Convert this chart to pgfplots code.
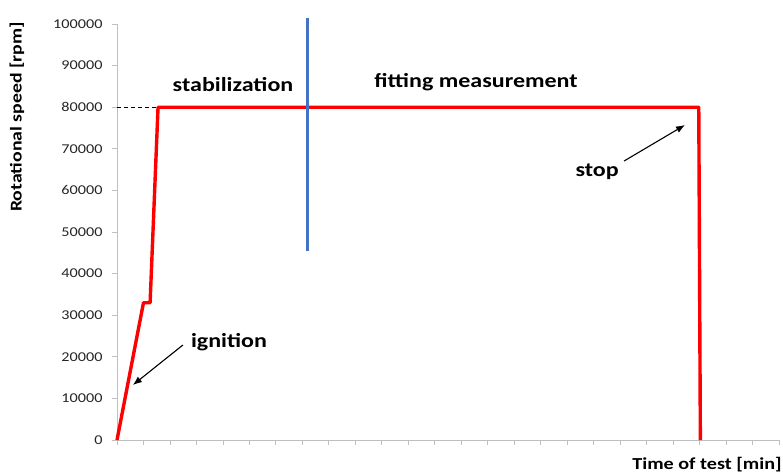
\documentclass[border=0pt]{standalone}
\usepackage{pgfplots}
\pgfplotsset{compat=1.18}
\usetikzlibrary{arrows.meta}
\usepackage{fontspec}
\setmainfont[FakeStretch=1.2]{Carlito}
\definecolor{myblue}{RGB}{68,114,196}
\definecolor{tickgray}{RGB}{191,191,191}
\begin{document}
\begin{tikzpicture}
\useasboundingbox (-117pt,-35pt) rectangle (666pt,440pt);
\begin{axis}[
  anchor=origin, at={(0,0)},
  scale only axis, width=662pt, height=416pt,
  xmin=0, xmax=25, ymin=0, ymax=100000,
  axis x line=bottom, axis y line=left,
  axis line style={-, draw=tickgray, line width=0.8pt},
  xtick={0,...,25}, xticklabels={},
  ytick={0,10000,...,100000},
  scaled y ticks=false,
  tick style={draw=tickgray, line width=0.8pt},
  tick align=outside, major tick length=5pt,
  /pgf/number format/assume math mode=true,
  /pgf/number format/fixed,
  /pgf/number format/1000 sep={},
  yticklabel style={font=\fontsize{13.5}{15}\selectfont, text=black!85, xshift=-6pt},
  clip=false,
]
\addplot[red, line width=3.4pt, line join=round] coordinates {
(0,0) (1.0,33000) (1.25,33000) (1.55,80000) (21.97,80000) (22.03,0)};
\addplot[myblue, line width=3.4pt] coordinates {(7.2,45400) (7.2,101400)};
\addplot[black, line width=1.2pt, dash pattern=on 4pt off 3pt] coordinates {(0,80000) (1.55,80000)};
\addplot[black, line width=1.1pt, -{Latex[length=9pt,width=7pt]}] coordinates {(19.15,67067) (21.45,75721)};
\addplot[black, line width=1.1pt, -{Latex[length=9pt,width=7pt]}] coordinates {(2.49,22837) (0.60,13221)};
\node[font=\bfseries\fontsize{20}{22}\selectfont] at (axis cs:4.38,85337) {stabilization};
\node[font=\bfseries\fontsize{20}{22}\selectfont] at (axis cs:13.56,86058) {fitting measurement};
\node[font=\bfseries\fontsize{20}{22}\selectfont] at (axis cs:18.13,64423) {stop};
\node[font=\bfseries\fontsize{20}{22}\selectfont] at (axis cs:4.23,23560) {ignition};
\end{axis}
\node[rotate=90, font=\bfseries\fontsize{16.5}{18}\selectfont] at (-100pt,323pt) {Rotational speed [rpm]};
\node[font=\bfseries\fontsize{16.8}{18}\selectfont] at (590pt,-25pt) {Time of test [min]};
\end{tikzpicture}
\end{document}
